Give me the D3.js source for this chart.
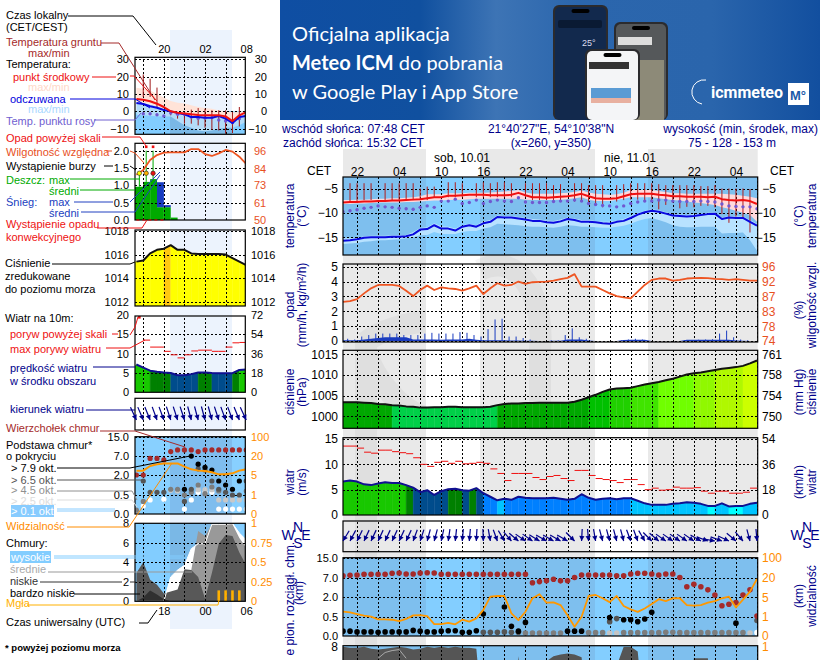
<!DOCTYPE html>
<html>
<head>
<meta charset="utf-8">
<script src="https://cdn.jsdelivr.net/npm/d3@7"></script>
<style>
	body { margin: 0; background: #fff; overflow: hidden; }
	svg { display: block; font-family: "Liberation Sans", Arial, sans-serif; }
</style>
</head>
<body>
<svg id="chart" width="820" height="660"></svg>
<script>
// main meteogram, one value per hour
var temp = [-7.8,-7.7,-7.7,-7.6,-7.6,-7.5,-7.5,-7.4,-7.4,-7.3,
	-7.2,-7.1,-6.9,-6.7,-6.7,-6.4,-6.4,-6.3,-6.2,-6.2,
	-6.2,-6.3,-6.3,-6.3,-6.2,-5.8,-6.3,-6.7,-6.7,-6.8,
	-6.7,-6.6,-6.5,-6.3,-6,-6.5,-6.9,-7,-7,-6.9,
	-6.5,-6.1,-6,-6,-6,-6.2,-6.3,-6.5,-6.5,-6.6,
	-6.6,-6.6,-6.7,-6.6,-7.1,-7.3,-7.4,-7.3,-7.5,-8.1];
var tempMax = [-7.3,-7.3,-7.2,-7.2,-7.1,-7,-7,-6.9,-6.9,-6.8,
	-6.7,-6.5,-6.1,-6.1,-6.1,-5.9,-5.9,-5.9,-5.8,-5.8,
	-5.8,-5.7,-5.6,-5.5,-5.4,-5.2,-5.7,-6,-6,-6,
	-6,-5.9,-5.8,-5.6,-5.3,-5.7,-6,-6.1,-6.2,-6.1,
	-5.8,-5.2,-5.2,-5.2,-5.2,-5.4,-5.6,-5.9,-5.9,-6,
	-6,-6,-6,-6,-6,-6.1,-6.2,-6.4,-6.6,-6.9];
var tempMin = [-8.1,-8.1,-8,-8,-7.9,-7.8,-7.8,-7.8,-7.8,-7.7,
	-7.7,-7.6,-7.5,-7.4,-7.4,-7.3,-7.2,-7.2,-7.1,-7,
	-7,-7,-7,-7,-7,-7,-7.2,-7.3,-7.3,-7.3,
	-7.3,-7.2,-7.1,-6.9,-6.7,-7.2,-7.5,-7.5,-7.5,-7.3,
	-7,-6.7,-6.7,-6.7,-6.7,-6.9,-7.1,-7.3,-7.4,-7.6,
	-7.8,-7.9,-8.1,-8.3,-8.8,-9.1,-9.5,-9.9,-10.4,-11.8];
var feels = [-15.7,-15.6,-15.4,-15.1,-15,-15,-15,-14.9,-14.9,-14.8,
	-14.4,-13.4,-13.3,-12.5,-13.2,-13.2,-13.6,-12.8,-12.5,-12.8,
	-12.1,-11.8,-10.8,-10.9,-10.9,-11.1,-11.3,-11.6,-11.6,-11.9,
	-12,-11.7,-11.2,-11.4,-11.8,-11.8,-11.9,-12.1,-12.2,-11.8,
	-11.6,-11,-10.3,-9.8,-9.5,-9.7,-10.1,-10.5,-10.6,-10.7,
	-10.6,-10.4,-10.2,-10.1,-11.2,-10.9,-11,-11,-11.8,-12.6];
var feelsMax = [-15.2,-15.2,-15.1,-14.8,-14.7,-14.7,-14.7,-14.6,-14.6,-14.5,
	-13.9,-13.1,-12.9,-12.1,-12.7,-12.8,-13.2,-12.5,-12.2,-12.5,
	-11.7,-11.4,-10.5,-10.6,-10.6,-10.8,-11,-11.2,-11.3,-11.5,
	-11.6,-11.3,-10.9,-11.1,-11.4,-11.4,-11.6,-11.8,-11.8,-11.5,
	-11.2,-10.6,-10,-9.5,-9.2,-9.4,-9.8,-10.2,-10.3,-10.4,
	-10.2,-10.1,-9.9,-9.8,-10.9,-10.6,-10.7,-10.7,-11.4,-12.2];
var feelsMin = [-16.4,-16.3,-16.2,-15.9,-15.8,-15.6,-15.6,-15.5,-15.4,-15.2,
	-15,-14.6,-14.5,-13.9,-14.3,-14.3,-14.3,-13.9,-13.7,-13.7,
	-13.2,-12.9,-12.2,-12.3,-12.4,-12.5,-12.7,-12.8,-12.8,-12.9,
	-13,-12.8,-12.5,-12.6,-12.8,-12.8,-12.9,-13,-13,-12.8,
	-12.6,-12.2,-11.6,-11.2,-11,-11.4,-11.9,-12.5,-12.8,-12.9,
	-12.9,-12.8,-12.8,-12.8,-14.2,-14.1,-14.1,-14,-15.6,-17.8];
var dew = [-9.7,-9.5,-9.3,-9,-8.8,-8.5,-8.7,-8.8,-9,-9.1,
	-9.2,-8.8,-8.5,-8.8,-7.5,-7.5,-7.1,-8,-7.8,-7.3,
	-8,-7.6,-7.3,-7.5,-7.6,-6.8,-7.7,-7.8,-7.8,-7.8,
	-7.6,-7.5,-7.5,-7.3,-7.5,-8,-8.2,-8.4,-8.5,-8.7,
	-8.5,-8,-7.7,-7.5,-7.5,-7.3,-7.3,-7.5,-7.6,-7.6,
	-7.6,-7.5,-7.6,-7.7,-8.1,-8.5,-8.6,-8.7,-8.7,-9.1];
var groundMax = [null,-3.8,-3.8,-3.8,-3.8,null,-3.8,-3.8,-3.8,-3.8,
	-3.8,-4.9,-4.5,-4.5,null,-3.6,-3.6,-3.8,null,-3.8,
	-3.6,-3.8,-3.6,-3.6,-3.8,null,-3.8,-3.8,-3.8,-3.8,
	-4.2,-4,null,-3.8,-3.8,-4.2,-4.2,-4.2,null,-4.2,
	-4,-3.8,-3.8,-3.8,-3.8,-4,-4.2,-4.2,-4.2,-4.2,
	-4.2,-4.4,-4.4,-4.2,-4.9,-4.9,-4.9,-4.9,-5,null];
var groundMin = [null,-7.6,-7.6,-7.3,-7.3,null,-7.3,-7.3,-7.3,-7.3,
	-7.3,-7.3,-7.3,-6.7,null,-6.7,-6.7,-6.7,null,-6.7,
	-6.7,-6.7,-6.7,-6.7,-6.7,null,-6.7,-7.3,-7.3,-7.3,
	-7.3,-7.3,null,-7.6,-7.5,-7.8,-7.9,-8.8,null,-7.6,
	-7.3,-7.2,-7.2,-7.3,-7.6,-9.2,-8.3,-7.8,-9,-8.7,
	-8.8,-8.5,-8.5,-8.8,-10.2,-12,-10.7,-11.1,-14,null];
var humidity = [85.6,85.8,86.4,88.1,89.6,90.6,90.6,90.6,90.3,88.9,
	87.3,89.1,90.4,89.1,89.9,89.6,89.4,88.9,89.6,90.4,
	87.9,89.6,91.1,90.4,90.6,91.6,90.9,91.4,91.5,91.6,
	91.9,92.3,92.7,93.8,90.1,90.1,90.1,89.1,88.1,87.3,
	86.9,86.6,88.6,90.6,92.1,92.5,92.5,91.9,92.1,92.5,
	92.6,92.7,92.6,92.4,92.3,92.1,92.3,92.1,91.9,91.9];
var rainPeak = [0,.15,.1,.3,.4,.5,.5,.5,.5,.4,
	.4,.4,.5,.55,.5,.5,.5,.6,.55,.4,
	.3,.8,1.45,1.5,.3,.3,.2,.1,0,0,
	.05,.05,.4,.85,.25,.15,0,0,0,0,
	.05,.1,.15,.1,0,0,0,0,0,.05,
	.05,.08,.1,.12,.5,.7,.25,.1,.05,0];
var rainMean = [.05,.05,.05,.1,.15,.2,.25,.25,.25,.25,
	.1,.1,.1,.1,.08,.1,.1,.1,.15,.08,
	.05,.05,.05,.05,.03,.03,.02,.02,0,0,
	.02,.02,.1,.1,.1,.03,0,0,0,0,
	.06,.08,.08,.08,0,0,0,0,0,.08,
	.08,.08,.08,.08,.08,.08,.03,.02,0,0];
var pressure = [1003.4,1003.4,1003.4,1003.3,1003.2,1003,1002.9,1002.7,1002.6,1002.4,
	1002.3,1002.1,1002.1,1002.2,1002.2,1002.3,1002.3,1002.2,1002.2,1002.2,
	1002.2,1002.3,1002.7,1003,1003.1,1003.1,1003.2,1003.2,1003.3,1003.3,
	1003.3,1003.3,1003.3,1003.5,1004,1004.6,1005.2,1005.9,1006.5,1006.7,
	1006.8,1006.9,1007.3,1007.7,1008,1008.3,1008.7,1009.1,1009.6,1010.1,
	1010.4,1010.6,1010.9,1011.2,1011.5,1011.7,1011.9,1012.2,1012.8,1013.5];
var wind = [6.6,6.8,6.6,6.05,5.9,6.2,6.45,6.3,6.3,5.9,
	5.4,4.5,4.9,3.95,4.7,5.1,5.2,4.9,4.8,5.3,
	4.3,3.6,2.9,3.2,3,3.6,3.4,3.3,3.3,3.3,
	3.4,3.2,3,3.2,4.1,3.4,3,3.2,3.3,3.1,
	3.3,3.3,2.8,2.3,2,2,2,2.2,2.3,2.5,
	2.4,2.2,1.8,1.8,2.3,1.7,1.8,1.8,2.2,2.4];
var gust = [13.6,13.6,13.2,12.4,12.2,12.8,12.8,12.5,12.3,12.1,
	11.3,10,9.6,10.4,10.6,10.2,10.6,10.1,10.2,10.4,
	10.2,9.1,8.2,6.8,8.2,8.2,8.2,7.4,7,7.6,
	7.8,7.2,6.8,8.8,8.8,7.8,7.2,7,6.8,6.4,
	7,7,6,5,5.3,4.9,5,5.5,5.3,5.3,
	5.4,4.7,4.3,4.7,4.7,4.3,4.3,4.5,5.3];
var windDir = [211,208,206,205,205,205,205,205,205,205,
	200,198,195,195,192,188,186,185,185,183,
	178,170,160,150,140,130,125,125,122,120,
	120,120,120,135,183,175,170,165,165,165,
	165,160,160,150,135,130,125,125,125,125,
	125,120,110,100,110,115,130,140,165,175];
var cloudTop = [7.8,8,8.1,8.4,8.4,8.4,8.4,8.8,8.9,8.5,
	8.5,8.9,9,8.9,8.4,8.4,8.4,8.4,8.4,8.4,
	8.4,8.4,8.4,8.4,8.4,8.4,8.4,5.7,6,6.2,
	6.6,6.2,6.2,7.1,8.1,8.1,8.1,8.1,8.1,7.8,
	7.8,8.5,8.8,8.8,8.5,8.1,8.5,8.5,7.1,4.7,
	5.3,4.7,3.9,2.6,1.35,1.46,1.59,2.6,3.9,.55];
var base79 = [.12,.12,.1,.1,.1,.09,.1,.1,.1,.1,
	.14,.12,.1,.1,.12,.13,.13,.09,.09,.13,
	.7,null,null,1.25,.25,.12,.35,null,null,null,
	null,null,.12,.12,.12,null,null,null,.48,null,
	.42,.42,.37,.44,.84,null,null,null,null,null,
	null,null,null,null,null,null,.33,null,null,null];
var base65 = [null,null,null,null,null,null,null,null,null,null,
	null,null,null,null,null,null,null,null,null,null,
	.09,.09,.09,.1,.09,.09,null,null,null,null,
	null,null,null,null,null,null,null,null,.37,.45,
	null,null,null,null,null,null,null,null,null,null,
	null,null,null,null,null,null,null,null,null,.4];
var base45 = [null,null,null,null,null,null,null,null,null,null,
	null,null,null,null,null,null,null,null,null,null,
	null,null,null,null,null,null,.07,.07,.07,.07,
	.07,.07,null,null,null,.08,.08,.08,null,null,
	.08,.08,.08,.08,.08,.08,.09,.09,.08,.08,
	.08,.08,.08,.08,.08,.08,.08,.08,null,null];
var base25 = [null,null,null,null,null,null,null,null,null,null,
	null,null,null,null,null,null,null,null,null,null,
	null,null,null,null,null,null,null,null,null,null,
	null,null,null,null,null,null,null,null,.07,.07,
	null,null,null,null,null,null,null,null,null,null,
	null,null,null,null,null,null,null,null,.07,null];
var base01 = [null,null,null,null,null,null,null,null,null,null,
	null,null,null,null,null,null,null,null,null,null,
	null,null,null,null,null,null,null,null,null,null,
	null,null,null,null,null,null,null,null,null,null,
	null,null,null,null,null,null,null,null,null,null,
	null,null,null,null,null,null,null,null,null,.08];
var visibility = [2.03,1.9,1.55,1.2,1,.86,.86,.84,.77,.88,
	1.28,1.34,1.14,.61,.61,.67,.6,.84,.74,.91,
	2.4,5.5,6,6,1.7,.82,2.03,4.8,7.3,3.9,
	3.97,3.4,1.3,.47,1,6,6.8,4.8,4,6,
	3.2,2.5,2,2.7,3.6,4.6,4.2,4.8,4.8,3.4,
	3.3,3.4,3.9,4.2,4.8,5.5,2.9,4.5,9.3,19];
var cloudLow = [8,7.9,7.9,8,7.8,7.7,7.8,7.9,8,7.9,
	7.7,7.8,8,7.9,8,7.9,8,7.9,7.9,7.8,
	0,0,0,0,0,7,0,0,0,6.5,
	7,7.2,7.3,7.2,6.9,0,0,0,0,6,
	8,8,7.5,0,0,0,0,0,0,0,
	6.8,6.8,6.8,0,0,0,0,0,0,0];
var cloudMid = [null,null,null,null,null,6.8,7.4,7.6,7.7,6.8];

var tempTicks = [-5, -10, -15];
var rainTicks = [0, 1, 2, 3, 4, 5];
var humidityTicks = [74, 78, 83, 87, 92, 96];
var pressureTicks = [1000, 1005, 1010, 1015];
var mmHgTicks = [750, 754, 758, 761];
var windTicks = [0, 5, 10, 15];
var kmhTicks = [0, 18, 36, 54];
var baseTicks = [0, .5, 2, 7, 15];
var visTicks = [0, 1, 5, 20, 100];
var hourIndex = [2, 8, 14, 20, 26, 32, 38, 44, 50, 56];
var hourLabels = ["22", "04", "10", "16", "22", "04", "10", "16", "22", "04"];
var gridIndex = d3.range(2, 60, 3);

// small meteogram on the left, one value per hour
var leftTemp = [7.1,6.7,5.8,4.4,2.5,0,-.8,-1.2,-1.7,-2.1,-2.3,-2.3,-2.3,-2.9,-5.6,-2.3,-.4];
var leftTempMax = [13.6,13,12,10,8,6,5,4.5,3.5,2.5,2,1.5,.5,0,-.5,-.4,.3];
var leftTempMin = [5.5,5,4.3,3,1,-1,-2,-2.5,-3,-3.3,-3.5,-3.5,-3.5,-4,-6.5,-3.5,-1.5];
var leftFeels = [4.8,4.2,2.9,2.1,.8,0,-1,-1.7,-3.3,-3.3,-3.7,-3.7,-2.7,-4.2,-6.7,-3.3,-2.7];
var leftFeelsMax = [5.5,5,4,3,1.5,.5,-.5,-1.2,-2.5,-2.5,-3,-3,-2,-3.5,-6,-2.5,-2];
var leftFeelsMin = [-2,-2.2,-2.5,-2.8,-3,-3,-5.5,-8,-9.5,-11,-11.5,-11,-10,-9.5,-9.5,-8,-6];
var leftDew = [null,-1.4,-1.4,-2,-2.7,-1,-1.7,-1.7,-3.3,-4,-3.8,-3.6,-5,-5.6,-6.5,-4.2,null];
var leftGroundMax = [null,21.3,18.8,13.7,null,.6,-.4,-.8,1,1.9,1.5,.6,.6,.6,-.4,2.5,null];
var leftGroundMin = [null,8.3,8.3,2.1,null,-2.3,-4.2,-7.1,-7.1,-8.1,-9.4,-10.6,-11,-12.9,-12.5,-8.7,null];
var leftHumidity = [80,83.2,89.8,93.1,94.7,94.9,94.9,94.9,97.1,97.1,93.8,92.5,94.2,96.5,95.4,92,87.2];
var leftRain = [.96,1.1,1.18,.37,.37,.07,0,0,0,0,0,0,0,0,0,0];
var leftSnow = [0,0,0,1.09,.43,0,0,0,0,0,0,0,0,0,0,0];
var leftRainMax = [1.35,2,2,null,null,null];
var leftPressure = [1015.4,1015.5,1016.1,1016.4,1016.5,1016.8,1016.4,1016.4,1016.1,1016.05,1016.05,1016.05,1016.05,1016,1015.7,1015.4,1015.1];
var leftWind = [7.2,6.4,5.6,5.3,5.1,5,4.4,4.4,4.7,5.1,5.15,5,4.95,4.95,4.95,5.8,5.9];
var leftGust = [null,13.5,11.7,11.7,10.6,9.7,8.9,9.7,10.7,10.9,10.9,10.6,10.6,11.7,12.8,12.9];
var leftDir = [155,157,158,160,160,162,162,162,165,165,165,165,162,160,160,158,155];
var leftTop = [2,2,6.3,6.3,5.9,8.7,9.4,9.4,9.4,8.7,9.4,9.4,9.4,9.4,9.4,9.4,9.4];
var left79 = [null,null,null,null,null,null,null,.93,6.9,4.8,4,3.3,1.55,1.25,.93,1.55,null];
var left65 = [null,1.55,.7,.7,.7,null,null,.33,.93,3.6,3.3,1.55,.93,.7,.5,.5,1.55];
var left45 = [.1,.33,null,null,null,.93,.93,.5,.7,1.25,.6,1.1,.8,null,null,null,.8];
var left25 = [.03,null,null,null,null,.85,.8,null,null,.9,.9,.9,.37,.37,.37,.37,.37];
var left01 = [null,.21,.37,null,.39,null,null,.13,.37,.7,.7,.7,.13,.13,.13,.13,.13];
var leftVis = [8.4,8.4,12,13.3,14,14,14,11.5,9.4,8.4,8.1,7.1,5.5,5.5,6.3,8.4,9.4];
var leftHigh = [0,0,0,0,0,2.5,3.2,3.7,5.4,5.9,5.9,7.9,7.9,7.9,8,7,6.3];
var leftMid = [0,0,0,0,0,0,0,0,3.2,7.2,6.7,7.9,7.9,7.9,7.9,6.5,5.5];
var leftLow = [2.9,4,2.2,1.7,.8,1,1.2,3.3,3.2,2.5,.3,2.9,5.9,6.8,6.7,5,3.7];
var leftVeryLow = [0,.4,1.1,.7,.2,0,0,0,0,0,0,0,0,0,0,0,0];
var leftFog = [0,0,0,0,0,0,0,0,0,0,0,0,.14,.14,.14,.14,0];

var svg = d3.select("#chart");
var defs = svg.append("defs");

var xMain = d3.scaleLinear().domain([0, 59]).range([343, 757]);
var xLeft = d3.scaleLinear().domain([0, 16]).range([136.4, 246.2]);
// precipitation marks sit in the middle of the hour
var xLeftMid = function(i) { return xLeft(i + .43); };

function text(g, x, y, s, color, size, anchor) {
	return g.append("text")
		.attr("x", x)
		.attr("y", y)
		.attr("fill", color || "#000")
		.attr("font-size", size || 11)
		.attr("text-anchor", anchor || "start")
		.text(s);
}

function vtext(g, x, y, s, color) {
	return g.append("text")
		.attr("transform", "translate(" + x + "," + y + ") rotate(-90)")
		.attr("fill", color || "#00008b")
		.attr("font-size", 12)
		.attr("text-anchor", "middle")
		.text(s);
}

function lead(g, pts, color) {
	return g.append("path")
		.attr("d", d3.line()(pts))
		.attr("fill", "none")
		.attr("stroke", color)
		.attr("stroke-width", 1);
}

function ticks(g, scale, values, x, side, color, size, fmt, anchor) {
	var axis = (side == "l" ? d3.axisLeft(scale) : d3.axisRight(scale))
		.tickValues(values)
		.tickSize(0)
		.tickPadding(0)
		.tickFormat(fmt || d3.format("d"));
	var a = g.append("g")
		.attr("transform", "translate(" + x + ",0)")
		.call(axis);
	a.select(".domain").remove();
	a.attr("font-family", null).attr("font-size", size);
	a.selectAll("text").attr("fill", color || "#000");
	if (anchor) a.attr("text-anchor", anchor);
}

// clip + dashed grid + frame for one panel
var clipCount = 0;
function panel(box) {
	var id = "clip" + (clipCount++);
	defs.append("clipPath").attr("id", id).append("rect")
		.attr("x", box.x0).attr("y", box.y0)
		.attr("width", box.x1 - box.x0).attr("height", box.y1 - box.y0);
	return svg.append("g").attr("clip-path", "url(#" + id + ")");
}

function grid(g, box, x, xValues, y, yValues) {
	var gx = g.append("g")
		.attr("transform", "translate(0," + box.y1 + ")")
		.call(d3.axisBottom(x).tickValues(xValues).tickSize(box.y0 - box.y1).tickFormat(""));
	gx.select(".domain").remove();
	if (y) {
		var gy = g.append("g")
			.attr("transform", "translate(" + box.x0 + ",0)")
			.call(d3.axisRight(y).tickValues(yValues).tickSize(box.x1 - box.x0).tickFormat(""));
		gy.select(".domain").remove();
	}
	g.selectAll(".tick line")
		.attr("stroke", "#000")
		.attr("stroke-dasharray", "2,2")
		.attr("shape-rendering", "crispEdges");
}

function frame(box, color) {
	svg.append("rect")
		.attr("x", box.x0).attr("y", box.y0)
		.attr("width", box.x1 - box.x0).attr("height", box.y1 - box.y0)
		.attr("fill", "none")
		.attr("stroke", color || "#000")
		.attr("stroke-width", 1.2);
}

function band(g, x, y, upper, lower, color) {
	var area = d3.area()
		.x(function(d, i) { return x(i); })
		.y0(function(d, i) { return y(lower[i]); })
		.y1(function(d) { return y(d); });
	g.append("path").attr("d", area(upper)).attr("fill", color);
}

function line(g, x, y, values, color, w) {
	var l = d3.line()
		.defined(function(d) { return d != null; })
		.x(function(d, i) { return x(i); })
		.y(function(d) { return y(d); });
	g.append("path")
		.attr("d", l(values))
		.attr("fill", "none")
		.attr("stroke", color)
		.attr("stroke-width", w)
		.attr("stroke-linejoin", "round");
}

function dots(g, x, y, values, color, r) {
	g.append("g").selectAll("circle")
		.data(values.map(function(v, i) { return { i: i, v: v }; }).filter(function(d) { return d.v != null; }))
		.enter().append("circle")
		.attr("cx", function(d) { return x(d.i); })
		.attr("cy", function(d) { return y(d.v); })
		.attr("r", r)
		.attr("fill", color);
}

function bars(g, x, y, top, bottom, color) {
	top.forEach(function(v, i) {
		if (v == null) return;
		g.append("line")
			.attr("x1", x(i)).attr("x2", x(i))
			.attr("y1", y(v)).attr("y2", y(bottom[i]))
			.attr("stroke", color)
			.attr("stroke-width", 1);
	});
}

// one filled column per hour, coloured from the mean value of the hour
function columns(g, x, y, values, zero, color) {
	values.forEach(function(v, i) {
		if (i == values.length - 1) return;
		var pair = [i, i + 1];
		var a = d3.area()
			.x(function(k) { return x(k); })
			.y0(y(zero))
			.y1(function(k) { return y(values[k]); });
		g.append("path")
			.attr("d", a(pair))
			.attr("fill", color((v + values[i + 1]) / 2))
			.attr("stroke", color((v + values[i + 1]) / 2))
			.attr("stroke-width", .4);
	});
}

function gustTicks(g, x, y, values, color) {
	values.forEach(function(v, i) {
		if (v == null) return;
		g.append("line")
			.attr("x1", x(i)).attr("x2", x(i + 1))
			.attr("y1", y(v)).attr("y2", y(v))
			.attr("stroke", color)
			.attr("stroke-width", 1);
	});
}

function arrows(g, x, y, values, len) {
	values.forEach(function(a, i) {
		var r = a * Math.PI / 180,
			hx = x(i),
			tx = hx - Math.sin(r) * len,
			ty = y + Math.cos(r) * len;
		g.append("line")
			.attr("x1", tx).attr("y1", ty)
			.attr("x2", hx).attr("y2", y)
			.attr("stroke", "#00008b")
			.attr("stroke-width", 1.2);
		// arrow head
		var bx = hx - Math.sin(r) * 5,
			by = y + Math.cos(r) * 5,
			nx = Math.cos(r) * 2.6,
			ny = Math.sin(r) * 2.6;
		g.append("path")
			.attr("d", d3.line()([[hx, y], [bx + nx, by + ny], [bx - nx, by - ny]]) + "Z")
			.attr("fill", "#00008b");
	});
}

// ---- banner
var grad = defs.append("linearGradient").attr("id", "bannerFill");
grad.append("stop").attr("offset", "0").attr("stop-color", "#0f4ea3");
grad.append("stop").attr("offset", ".26").attr("stop-color", "#10509f");
grad.append("stop").attr("offset", ".4").attr("stop-color", "#3d74b5");
grad.append("stop").attr("offset", ".55").attr("stop-color", "#2b66ad");
grad.append("stop").attr("offset", ".8").attr("stop-color", "#2a65ac");
grad.append("stop").attr("offset", "1").attr("stop-color", "#124f9f");
svg.append("rect").attr("x", 280).attr("y", 0).attr("width", 540).attr("height", 120).attr("fill", "url(#bannerFill)");

function phone(x, y, w, screen) {
	svg.append("rect").attr("x", x).attr("y", y).attr("width", w).attr("height", 120 - y)
		.attr("rx", 6).attr("fill", "#2b2b2e");
	svg.append("rect").attr("x", x + 2).attr("y", y + 2).attr("width", w - 4).attr("height", 118 - y)
		.attr("rx", 5).attr("fill", screen);
	svg.append("rect").attr("x", x + w / 2 - 9).attr("y", y + 4).attr("width", 18).attr("height", 4)
		.attr("rx", 2).attr("fill", "#000");
}
phone(553, 5, 55, "#12294d");
svg.append("rect").attr("x", 558).attr("y", 20).attr("width", 44).attr("height", 8).attr("rx", 2).attr("fill", "#0a1a33");
phone(614, 22, 54, "#55585a");
svg.append("rect").attr("x", 620).attr("y", 60).attr("width", 44).attr("height", 60).attr("fill", "#8d8a78");
svg.append("rect").attr("x", 618).attr("y", 37).attr("width", 34).attr("height", 8).attr("fill", "#ddd");
phone(585, 49, 55, "#f4f5f7");
svg.append("rect").attr("x", 589).attr("y", 62).attr("width", 40).attr("height", 7).attr("fill", "#333");
svg.append("rect").attr("x", 591).attr("y", 88).attr("width", 40).attr("height", 10).attr("fill", "#5a9bd4");
svg.append("rect").attr("x", 591).attr("y", 98).attr("width", 40).attr("height", 5).attr("fill", "#e8b0a0");
text(svg, 582, 46, "25°", "#dde", 9);

var bannerFont = "Lato";
text(svg, 292, 41, "Oficjalna aplikacja", "#fff", 20).attr("font-family", bannerFont);
var ban2 = text(svg, 292, 70, "", "#fff", 20).attr("font-family", bannerFont);
ban2.append("tspan").attr("font-weight", "bold").text("Meteo ICM");
ban2.append("tspan").text(" do pobrania");
text(svg, 292, 99, "w Google Play i App Store", "#fff", 20).attr("font-family", bannerFont);
text(svg, 711, 98, "icmmeteo", "#fff", 16).attr("font-weight", "bold").attr("font-family", "Roboto");
svg.append("path")
	.attr("d", "M706,80 A12,12 0 1 0 702,104")
	.attr("fill", "none").attr("stroke", "#fff").attr("stroke-width", 1);
svg.append("rect").attr("x", 788).attr("y", 83).attr("width", 21).attr("height", 22).attr("fill", "#fff");
text(svg, 798, 100, "M°", "#1a5aa8", 13, "middle").attr("font-weight", "bold");

// ---- background stripes of day and night
var greyStripes = [[343, 426], [480, 595], [648, 757.7]];
svg.append("g").selectAll("rect").data(greyStripes).enter().append("rect")
	.attr("x", function(d) { return d[0]; })
	.attr("y", 149)
	.attr("width", function(d) { return d[1] - d[0]; })
	.attr("height", 511)
	.attr("fill", "#e9e9e9");
svg.append("rect").attr("x", 170).attr("y", 30).attr("width", 62).attr("height", 599).attr("fill", "#ecf3fd");

// faint watermark on the stripes
svg.append("path")
	.attr("d", "M366,342 C380,330 410,322 426,322 M366,342 L366,660 M480,270 C520,250 545,300 540,350 L540,430 M365,350 C375,380 400,410 426,418")
	.attr("fill", "none")
	.attr("stroke", "#000")
	.attr("stroke-opacity", .04)
	.attr("stroke-width", 22);

// ---- header of the main meteogram
text(svg, 282, 133, "wschód słońca: 07:48 CET", "#00008b", 12);
text(svg, 283, 147, "zachód słońca: 15:32 CET", "#00008b", 12);
text(svg, 551, 133, "21°40'27\"E, 54°10'38\"N", "#00008b", 12, "middle");
text(svg, 551, 147, "(x=260, y=350)", "#00008b", 12, "middle");
text(svg, 818, 133, "wysokość (min, środek, max)", "#00008b", 12, "end");
text(svg, 732, 147, "75 - 128 - 153 m", "#00008b", 12, "middle");
text(svg, 462, 162, "sob, 10.01", "#000", 12, "middle");
text(svg, 630, 162, "nie, 11.01", "#000", 12, "middle");
text(svg, 319, 175, "CET", "#000", 12, "middle");
text(svg, 782, 175, "CET", "#000", 12, "middle");
var hourAxis = svg.append("g")
	.attr("transform", "translate(0,175)")
	.call(d3.axisTop(xMain).tickValues(hourIndex).tickSize(0).tickPadding(-1)
		.tickFormat(function(d, i) { return hourLabels[i]; }));
hourAxis.select(".domain").remove();
hourAxis.attr("font-family", null).attr("font-size", 12);
hourAxis.selectAll("text").attr("dy", 0);

// ---- temperature panel
var mainStripes = [[343, 426, "#7ebfee"], [426, 480, "#83ceff"], [480, 595, "#7ebfee"], [595, 648, "#83ceff"], [648, 758, "#7ebfee"]];

function stripes(g, box) {
	g.append("g").selectAll("rect").data(mainStripes).enter().append("rect")
		.attr("x", function(d) { return d[0]; })
		.attr("y", box.y0)
		.attr("width", function(d) { return d[1] - d[0]; })
		.attr("height", box.y1 - box.y0)
		.attr("fill", function(d) { return d[2]; });
}

var boxT = { x0: 343, x1: 757.7, y0: 177, y1: 255 };
var yT = d3.scaleLinear().domain([-5, -15]).range([189, 237.3]);
var gT = panel(boxT);
stripes(gT, boxT);
band(gT, xMain, yT, feelsMax, feelsMin, "#b8e2ff");
band(gT, xMain, yT, tempMax, tempMin, "#ffd9dc");
grid(gT, boxT, xMain, gridIndex, yT, tempTicks);
bars(gT, xMain, yT, groundMax, groundMin, "#b01c1c");
dots(gT, xMain, yT, dew, "#7058d0", 1.7);
line(gT, xMain, yT, feels, "#0a0ae0", 2);
line(gT, xMain, yT, temp, "#f01010", 2);
frame(boxT);
ticks(svg, yT, tempTicks, 338, "l", "#000", 12);
ticks(svg, yT, tempTicks, 776, "r", "#000", 12, null, "end");
vtext(svg, 294, 216, "temperatura");
vtext(svg, 306, 216, "(°C)");
vtext(svg, 803, 216, "(°C)");
vtext(svg, 816, 216, "temperatura");

// ---- precipitation and humidity
var boxR = { x0: 343, x1: 757.7, y0: 264, y1: 342 };
var yR = d3.scaleLinear().domain([0, 5]).range([341, 266.7]);
var yH = d3.scaleLinear().domain([74, 96]).range([341, 266.7]);
var yHLabels = d3.scaleLinear().domain(humidityTicks).range([341, 326.7, 311.7, 296.3, 281.7, 266.7]);
var gR = panel(boxR);
grid(gR, boxR, xMain, gridIndex, yR, rainTicks);
band(gR, xMain, yR, rainMean, rainMean.map(function() { return 0; }), "#1a3cc0");
rainPeak.forEach(function(v, i) {
	if (!v) return;
	gR.append("line")
		.attr("x1", xMain(i - .33)).attr("x2", xMain(i - .33))
		.attr("y1", yR(v)).attr("y2", yR(0))
		.attr("stroke", "#1a3cc0").attr("stroke-width", 1);
});
line(gR, xMain, yH, humidity, "#ee5522", 1.8);
frame(boxR);
ticks(svg, yR, rainTicks, 338, "l", "#000", 12);
ticks(svg, yHLabels, humidityTicks, 762, "r", "#e8501e", 12);
vtext(svg, 294, 305, "opad");
vtext(svg, 306, 305, "(mm/h, kg/m²/h)");
vtext(svg, 803, 310, "(%)");
vtext(svg, 816, 305, "wilgotność wzgl.");

// ---- pressure
var pressureColor = d3.scaleThreshold()
	.domain([1002.8, 1004.6, 1006.5, 1007, 1008.4, 1010.4, 1011.2, 1012.3])
	.range(["#00d048", "#00a800", "#00c000", "#20d000", "#40e400", "#70ff00", "#90f800", "#b0f800", "#ccff00"]);
var boxP = { x0: 343, x1: 757.7, y0: 350.3, y1: 428.3 };
var yP = d3.scaleLinear().domain([1000, 1015]).range([416.3, 354.3]);
var yMm = d3.scaleLinear().domain(mmHgTicks).range([416.3, 395.7, 375, 354.3]);
var gP = panel(boxP);
columns(gP, xMain, yP, pressure, 990, pressureColor);
grid(gP, boxP, xMain, gridIndex, yP, pressureTicks);
line(gP, xMain, yP, pressure, "#111", 2);
frame(boxP);
ticks(svg, yP, pressureTicks, 338, "l", "#000", 12);
ticks(svg, yMm, mmHgTicks, 762, "r", "#000", 12);
vtext(svg, 294, 392, "ciśnienie");
vtext(svg, 306, 392, "(hPa)");
vtext(svg, 803, 392, "(mm Hg)");
vtext(svg, 816, 392, "ciśnienie");

// ---- wind
var windColor = d3.scaleThreshold()
	.domain([1.85, 3.08, 4.2, 5, 5.7])
	.range(["#00ffff", "#00c4ff", "#0080ff", "#004c8c", "#008000", "#18c800"]);
var boxW = { x0: 343, x1: 757.7, y0: 437.7, y1: 515 };
var yW = d3.scaleLinear().domain([0, 15]).range([515, 439]);
var yKm = d3.scaleLinear().domain([0, 54]).range([515, 439]);
var gW = panel(boxW);
columns(gW, xMain, yW, wind, 0, windColor);
grid(gW, boxW, xMain, gridIndex, yW, windTicks);
gustTicks(gW, xMain, yW, gust, "#f01010");
line(gW, xMain, yW, wind, "#101090", 2);
frame(boxW);
ticks(svg, yW, windTicks, 338, "l", "#000", 12);
ticks(svg, yKm, kmhTicks, 762, "r", "#000", 12);
vtext(svg, 294, 482, "wiatr");
vtext(svg, 306, 482, "(m/s)");
vtext(svg, 803, 482, "(km/h)");
vtext(svg, 816, 482, "wiatr");

// ---- wind direction
var boxD = { x0: 343, x1: 757.7, y0: 521, y1: 551.7 };
var gD = panel(boxD);
grid(gD, boxD, xMain, gridIndex);
frame(boxD);
arrows(svg, xMain, 541, windDir, 12);
function compass(cx, cy) {
	text(svg, cx, cy - 3, "N", "#00008b", 14, "middle");
	text(svg, cx - 10, cy + 5, "W", "#00008b", 14, "middle");
	text(svg, cx + 8, cy + 5, "E", "#00008b", 14, "middle");
	text(svg, cx, cy + 13, "S", "#00008b", 14, "middle");
}
compass(298, 535);
compass(807, 535);

// ---- cloud base and visibility
var yB = d3.scaleLinear().domain(baseTicks).range([635.7, 616.7, 597.3, 577.7, 558]);
var yV = d3.scaleLinear().domain(visTicks).range([635.7, 616.7, 597.3, 577.7, 558]);
var boxB = { x0: 343, x1: 757.7, y0: 557.7, y1: 636 };
var gB = panel(boxB);
stripes(gB, boxB);
grid(gB, boxB, xMain, gridIndex, yB, baseTicks);
dots(gB, xMain, yB, base01, "#fff", 2.8);
dots(gB, xMain, yB, base25, "#c4c4c4", 2.8);
dots(gB, xMain, yB, base45, "#7d7d7d", 2.8);
dots(gB, xMain, yB, base65, "#555", 2.8);
dots(gB, xMain, yB, base79, "#000", 2.8);
dots(gB, xMain, yB, cloudTop, "#a52a2a", 2.8);
line(gB, xMain, yV, visibility, "#ff9800", 1.8);
frame(boxB);
ticks(svg, yB, baseTicks, 338, "l", "#000", 11, d3.format(".1f"));
ticks(svg, yV, visTicks, 762, "r", "#ff8c00", 12);
vtext(svg, 294, 542, "e pion. rozciągł. chm.").attr("text-anchor", "end");
vtext(svg, 303, 593, "(km)");
vtext(svg, 803, 596, "(km)");
vtext(svg, 816, 596, "widzialność");

// ---- clouds, cut by the bottom of the page
var boxC = { x0: 343, x1: 757.7, y0: 645.7, y1: 724 };
var yC = d3.scaleLinear().domain([0, 8]).range([724, 646.7]);
var gC = panel(boxC);
stripes(gC, boxC);
band(gC, xMain, yC, cloudLow, cloudLow.map(function() { return 0; }), "#555");
grid(gC, boxC, xMain, gridIndex);
line(gC, xMain, yC, cloudMid, "#aaa", 1);
frame(boxC);
ticks(svg, yC, [8], 338, "l", "#000", 12);
text(svg, 762, 651, "1", "#ff8c00", 12);

// ---- left meteogram: temperature
var leftGrid = [1, 4, 7, 10, 13];
var boxT2 = { x0: 135, x1: 245.3, y0: 57.3, y1: 134.3 };
var yT2 = d3.scaleLinear().domain([30, -10]).range([59.3, 128.7]);
var tTicks2 = [30, 20, 10, 0, -10];
var g2 = panel(boxT2);
g2.append("rect").attr("x", 135).attr("y", yT2(0)).attr("width", 111).attr("height", 24).attr("fill", "#82cdff");
g2.append("rect").attr("x", 170).attr("y", yT2(0)).attr("width", 62).attr("height", 24).attr("fill", "#7ab8e6");
band(g2, xLeft, yT2, leftFeelsMax, leftFeelsMin, "#b4dcf8");
band(g2, xLeft, yT2, leftTempMax, leftTempMin, "#ffe3d8");
grid(g2, boxT2, xLeft, leftGrid, yT2, tTicks2);
bars(g2, xLeft, yT2, leftGroundMax, leftGroundMin, "#a01818");
dots(g2, xLeft, yT2, leftDew, "#7058d0", 1.7);
line(g2, xLeft, yT2, leftFeels, "#0a0ae0", 2);
line(g2, xLeft, yT2, leftTemp, "#f01010", 2);
frame(boxT2);
ticks(svg, yT2, tTicks2, 129, "l", "#000", 11);
ticks(svg, yT2, tTicks2, 267, "r", "#000", 11, null, "end");

// ---- left meteogram: rain
var boxR2 = { x0: 135, x1: 245.3, y0: 143.3, y1: 220 };
var yR2 = d3.scaleLinear().domain([0, 2]).range([220, 150.7]);
var yH2 = d3.scaleLinear().domain([50, 96]).range([220, 150.7]);
var rTicks2 = [0, .5, 1, 1.5, 2];
var g3 = panel(boxR2);
g3.append("g").selectAll("rect").data(leftRain).enter().append("rect")
	.attr("x", function(d, i) { return i == 0 ? 135 : xLeft(i); })
	.attr("y", function(d) { return yR2(d); })
	.attr("width", function(d, i) { return i == 0 ? xLeft(1) - 135 : 6.9; })
	.attr("height", function(d) { return yR2(0) - yR2(d); })
	.attr("fill", "#00aa00");
g3.append("g").selectAll("rect").data(leftSnow).enter().append("rect")
	.attr("x", function(d, i) { return xLeft(i); })
	.attr("y", function(d) { return yR2(d); })
	.attr("width", 6.9)
	.attr("height", function(d, i) { return d ? yR2(leftRain[i]) - yR2(d) : 0; })
	.attr("fill", "#1a3cc0");
grid(g3, boxR2, xLeft, leftGrid, yR2, rTicks2);
bars(g3, xLeftMid, yR2, leftRainMax, leftRain, "#00aa00");
line(g3, xLeft, yH2, leftHumidity, "#ee5522", 1.8);
[0, 1, 2].forEach(function(i) {
	var c = ["#ffff00", "#ffb000", "#ee1111"][i];
	g3.append("circle").attr("cx", xLeftMid(i)).attr("cy", yR2(1.35)).attr("r", 2.2)
		.attr("fill", c).attr("stroke", "#222").attr("stroke-width", .6);
});
[1, 2].forEach(function(i) {
	g3.append("rect").attr("x", xLeftMid(i) - 1.3).attr("y", 145.5).attr("width", 2.6).attr("height", 2.6).attr("fill", "#ee1111");
});
frame(boxR2);
// convective rain marker on the base line
lead(svg, [[xLeft(0), yR2(0)], [xLeft(4), yR2(0)]], "#ff0000").attr("stroke-dasharray", "3,3");
ticks(svg, yR2, rTicks2, 129, "l", "#000", 11, d3.format(".1f"));
ticks(svg, yH2, [50, 61, 73, 84, 96], 254, "r", "#e8501e", 11);

// ---- left meteogram: pressure
var boxP2 = { x0: 135, x1: 245.3, y0: 230, y1: 306 };
var yP2 = d3.scaleLinear().domain([1012, 1018]).range([301.7, 231]);
var pTicks2 = [1012, 1014, 1016, 1018];
var g4 = panel(boxP2);
columns(g4, xLeft, yP2, leftPressure, 1005, function(v) { return v > 1016.62 ? "#ffc810" : "#ffff00"; });
g4.append("rect").attr("x", 135).attr("y", yP2(1015.4)).attr("width", 3).attr("height", 60).attr("fill", "#ffff00");
grid(g4, boxP2, xLeft, leftGrid, yP2, pTicks2);
line(g4, xLeft, yP2, leftPressure, "#111", 2);
frame(boxP2);
ticks(svg, yP2, pTicks2, 129, "l", "#000", 11);
ticks(svg, yP2, pTicks2, 251, "r", "#000", 11);

// ---- left meteogram: wind
var boxW2 = { x0: 135, x1: 245.3, y0: 316, y1: 392.3 };
var yW2 = d3.scaleLinear().domain([0, 20]).range([392.3, 315]);
var yKm2 = d3.scaleLinear().domain([0, 72]).range([392.3, 315]);
var g5 = panel(boxW2);
columns(g5, xLeft, yW2, leftWind, 0, windColor);
g5.append("rect").attr("x", 135).attr("y", yW2(7)).attr("width", 2).attr("height", 30).attr("fill", "#18c800");
grid(g5, boxW2, xLeft, leftGrid, yW2, [5, 10, 15, 20]);
gustTicks(g5, xLeft, yW2, leftGust, "#f01010");
line(g5, xLeft, yW2, leftWind, "#101090", 2);
g5.append("rect").attr("x", xLeftMid(0) - 1.3).attr("y", 316).attr("width", 2.6).attr("height", 2.6).attr("fill", "#ee1111");
frame(boxW2);
ticks(svg, yW2, [0, 5, 10, 15, 20], 129, "l", "#000", 11);
ticks(svg, yKm2, [0, 18, 36, 54, 72], 251, "r", "#000", 11);

// ---- left meteogram: wind direction
var boxD2 = { x0: 135, x1: 245.3, y0: 398.3, y1: 430 };
var g6 = panel(boxD2);
grid(g6, boxD2, xLeft, leftGrid);
frame(boxD2);
arrows(svg, xLeft, 420, leftDir, 14);

// ---- left meteogram: cloud base
var boxB2 = { x0: 135, x1: 245.3, y0: 436.7, y1: 514 };
var yB2 = d3.scaleLinear().domain(baseTicks).range([514, 495, 475, 455.7, 436.5]);
var yV2 = d3.scaleLinear().domain(visTicks).range([514, 495, 475, 455.7, 436.5]);
var g7 = panel(boxB2);
g7.append("rect").attr("x", 135).attr("y", 436).attr("width", 111).attr("height", 80).attr("fill", "#88d0ff");
g7.append("rect").attr("x", 170).attr("y", 436).attr("width", 62).attr("height", 80).attr("fill", "#7fbdee");
grid(g7, boxB2, xLeft, leftGrid, yB2, baseTicks);
dots(g7, xLeft, yB2, left01, "#fff", 2.6);
dots(g7, xLeft, yB2, left25, "#c8c8c8", 2.6);
dots(g7, xLeft, yB2, left45, "#7d7d7d", 2.6);
dots(g7, xLeft, yB2, left65, "#555", 2.6);
dots(g7, xLeft, yB2, left79, "#000", 2.6);
dots(g7, xLeft, yB2, leftTop, "#a52a2a", 2.6);
line(g7, xLeft, yV2, leftVis, "#ff9800", 2);
frame(boxB2);
ticks(svg, yB2, baseTicks, 129, "l", "#000", 11, d3.format(".1f"));
ticks(svg, yV2, visTicks, 251, "r", "#ff8c00", 11);

// ---- left meteogram: clouds
var boxC2 = { x0: 135, x1: 245.3, y0: 523.3, y1: 601.3 };
var yC2 = d3.scaleLinear().domain([0, 8]).range([601.3, 523.3]);
var yF2 = d3.scaleLinear().domain([0, 1]).range([601.3, 523.3]);
var g8 = panel(boxC2);
g8.append("rect").attr("x", 135).attr("y", 523).attr("width", 111).attr("height", 80).attr("fill", "#82cdff");
g8.append("rect").attr("x", 170).attr("y", 523).attr("width", 62).attr("height", 80).attr("fill", "#7ab8e6");
var zero17 = leftHigh.map(function() { return 0; });
band(g8, xLeft, yC2, leftHigh, zero17, "#fff");
band(g8, xLeft, yC2, leftMid, zero17, "#999");
band(g8, xLeft, yC2, leftLow, zero17, "#585858");
band(g8, xLeft, yC2, leftVeryLow, zero17, "#303030");
line(g8, xLeft, yC2, leftHigh, "#fff", 1);
grid(g8, boxC2, xLeft, leftGrid, yC2, [2, 4, 6]);
leftFog.forEach(function(v, i) {
	if (!v) return;
	g8.append("rect")
		.attr("x", xLeft(i) - 1.3)
		.attr("y", yF2(v))
		.attr("width", 2.6)
		.attr("height", yF2(0) - yF2(v))
		.attr("fill", "#ffb000");
});
frame(boxC2);
ticks(svg, yC2, [0, 2, 4, 6, 8], 129, "l", "#000", 11);
ticks(svg, yF2, [0, .25, .5, .75, 1], 251, "r", "#ff8c00", 11, d3.format("~g"));

// left time axes
function leftTime(y, labels) {
	var a = svg.append("g")
		.attr("transform", "translate(0," + y + ")")
		.call(d3.axisTop(xLeft).tickValues([4, 10, 16]).tickSize(0).tickPadding(0)
			.tickFormat(function(d, i) { return labels[i]; }));
	a.select(".domain").remove();
	a.attr("font-family", null).attr("font-size", 11);
}
leftTime(53, ["20", "02", "08"]);
leftTime(615, ["18", "00", "06"]);

// ---- legend on the left
var brown = "#a52a2a", red = "#ee1111", navy = "#00008b", green = "#00aa00", snow = "#2040c0", orange = "#ff8c00";
text(svg, 6, 19, "Czas lokalny");
text(svg, 6, 31, "(CET/CEST)");
lead(svg, [[68, 16], [133, 16], [156, 45]], "#000");
text(svg, 6, 46, "Temperatura gruntu", brown);
text(svg, 28, 57, "max/min", brown);
lead(svg, [[101, 43], [119, 43], [155, 100]], brown);
text(svg, 6, 68, "Temperatura:");
text(svg, 13, 81, "punkt środkowy", red);
lead(svg, [[92, 77], [116, 77]], red);
lead(svg, [[130, 76], [134, 76], [157, 101]], red);
text(svg, 28, 91, "max/min", "#ffd8c8");
text(svg, 10, 103, "odczuwana", "#0000dd");
lead(svg, [[70, 99], [135, 99], [150, 108]], "#0000dd");
text(svg, 28, 113, "max/min", "#a8d8ff");
text(svg, 6, 125, "Temp. punktu rosy", "#7060d0");
lead(svg, [[94, 120], [135, 120], [141, 113]], "#7060d0");
text(svg, 6, 142, "Opad powyżej skali", red);
lead(svg, [[102, 137], [140, 137], [146, 146]], red);
text(svg, 6, 156, "Wilgotność względna", "#e8501e");
lead(svg, [[106, 151], [112, 151]], "#e8501e");
lead(svg, [[130, 151], [135, 153], [144, 163]], "#e8501e");
text(svg, 6, 170, "Wystąpienie burzy");
lead(svg, [[104, 166], [113, 166]], "#000");
lead(svg, [[130, 166], [136, 170]], "#000");
text(svg, 6, 184, "Deszcz:", green);
text(svg, 49, 184, "max", green);
lead(svg, [[70, 179], [140, 179]], green);
text(svg, 49, 195, "średni", green);
lead(svg, [[80, 190], [135, 190]], green);
text(svg, 6, 206, "Śnieg:", snow);
text(svg, 49, 206, "max", snow);
lead(svg, [[74, 202], [113, 202]], snow);
lead(svg, [[130, 202], [160, 172]], snow);
text(svg, 49, 217, "średni", snow);
lead(svg, [[81, 212], [135, 212], [160, 175]], snow);
text(svg, 6, 228, "Wystąpienie opadu", red);
lead(svg, [[97, 228], [142, 228], [147, 220]], red);
text(svg, 6, 241, "konwekcyjnego", red);
text(svg, 5, 267, "Ciśnienie");
lead(svg, [[52, 264], [130, 264], [135, 262]], "#000");
text(svg, 5, 280, "zredukowane");
text(svg, 5, 293, "do poziomu morza");
text(svg, 5, 322, "Wiatr na 10m:");
text(svg, 10, 338, "poryw powyżej skali", red);
lead(svg, [[112, 334], [118, 334]], red);
lead(svg, [[130, 335], [135, 327], [138, 317]], red);
text(svg, 10, 353, "max porywy wiatru", red);
lead(svg, [[106, 348], [130, 348], [145, 340]], red);
text(svg, 10, 372, "prędkość wiatru", navy);
lead(svg, [[93, 367], [135, 367]], navy);
text(svg, 10, 385, "w środku obszaru", navy);
text(svg, 10, 413, "kierunek wiatru", navy);
lead(svg, [[86, 410], [135, 410]], navy);
text(svg, 6, 432, "Wierzchołek chmur", brown);
lead(svg, [[100, 431], [135, 431], [185, 447]], brown);
text(svg, 6, 449, "Podstawa chmur*");
text(svg, 6, 460, "o pokryciu");
text(svg, 11, 472, "> 7.9 okt.");
lead(svg, [[57, 468], [130, 468], [190, 456]], "#000");
text(svg, 11, 484, "> 6.5 okt.", "#555");
lead(svg, [[57, 480], [143, 480]], "#555");
text(svg, 11, 494, "> 4.5 okt.", "#909090");
lead(svg, [[57, 491], [132, 491], [137, 500]], "#909090");
text(svg, 11, 505, "> 2.5 okt.", "#ddd");
lead(svg, [[57, 500], [132, 500], [137, 507]], "#ddd");
svg.append("rect").attr("x", 11).attr("y", 505).attr("width", 43).attr("height", 12).attr("fill", "#88ccff");
text(svg, 11, 515, "> 0.1 okt.", "#fff");
lead(svg, [[57, 509], [115, 509]], "#88ccff");
lead(svg, [[57, 511], [115, 511]], "#88ccff");
text(svg, 6, 530, "Widzialność", orange);
lead(svg, [[67, 527], [129, 527], [172, 463]], orange);
text(svg, 6, 547, "Chmury:");
svg.append("rect").attr("x", 10).attr("y", 551).attr("width", 41).attr("height", 12).attr("fill", "#82cdff");
text(svg, 11, 561, "wysokie", "#fff");
lead(svg, [[54, 556], [187, 556]], "#82cdff");
lead(svg, [[54, 558], [187, 558]], "#82cdff");
text(svg, 10, 573, "średnie", "#aaa");
lead(svg, [[48, 572], [192, 572]], "#999");
text(svg, 10, 585, "niskie", "#333");
lead(svg, [[40, 582], [122, 582]], "#333");
lead(svg, [[130, 582], [136, 582]], "#333");
text(svg, 10, 597, "bardzo niskie");
lead(svg, [[74, 594], [140, 594]], "#000");
text(svg, 6, 607, "Mgła", "#ffb000");
lead(svg, [[27, 605], [218, 605], [219, 600]], "#ffb000");
text(svg, 6, 626, "Czas uniwersalny (UTC)");
lead(svg, [[139, 623], [148, 623], [157, 610]], "#000");
text(svg, 5, 651, "* powyżej poziomu morza", "#000", 9.5).attr("font-weight", "bold");
</script>
</body>
</html>
